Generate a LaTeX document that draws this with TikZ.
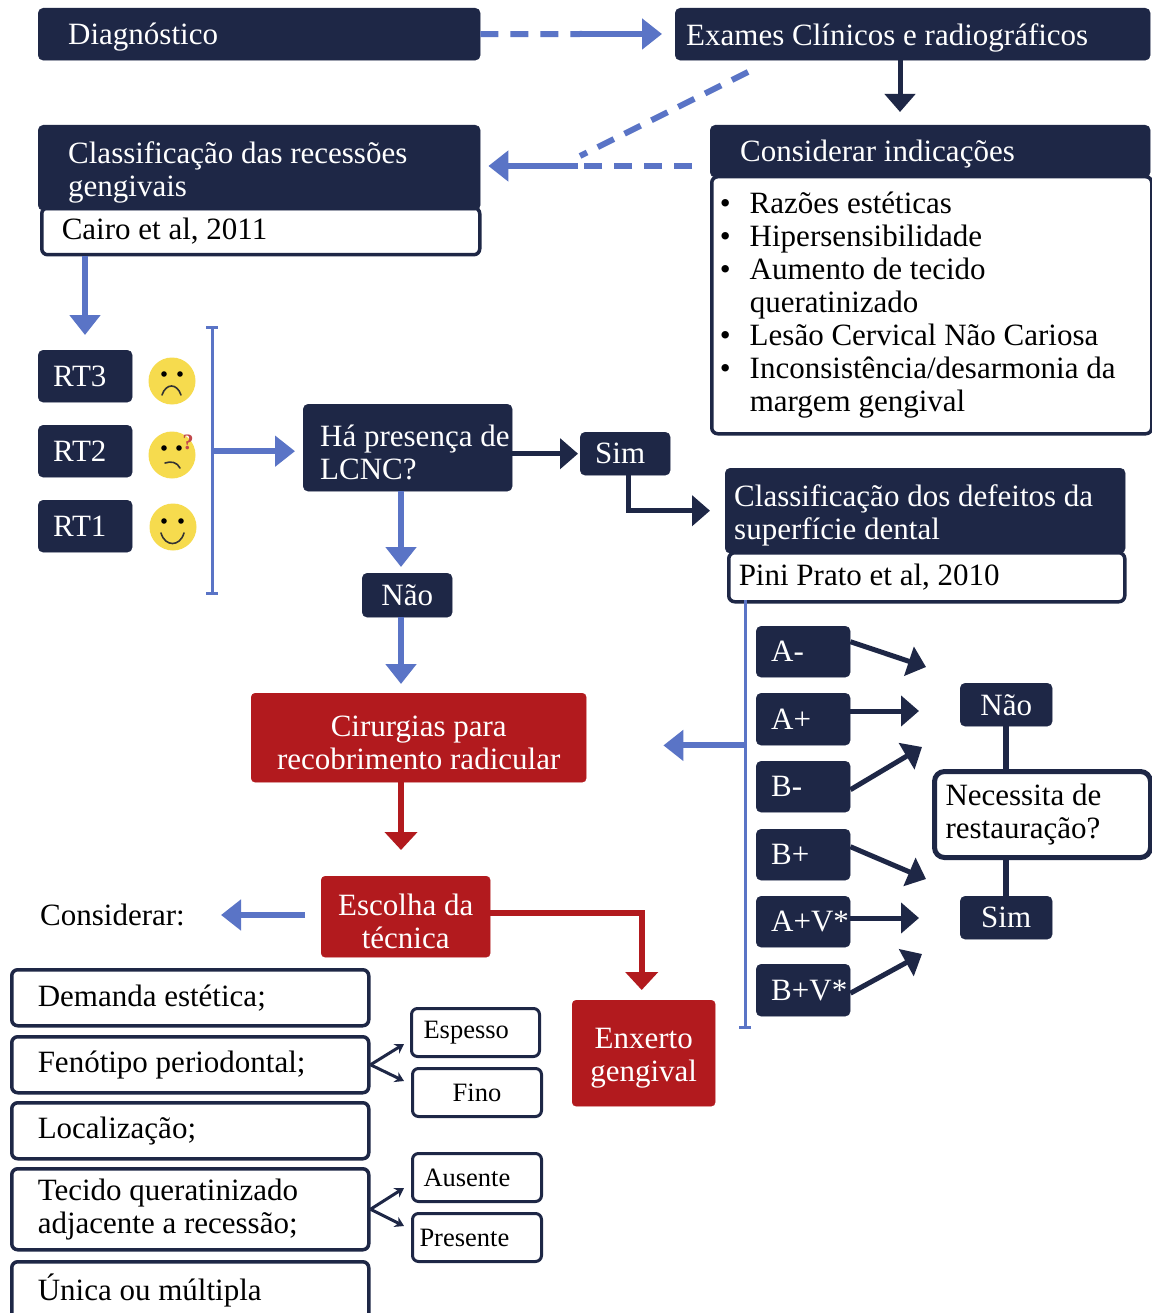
\documentclass[tikz,border=0pt]{standalone}
\usepackage{fontspec}
\setmainfont{Liberation Serif}
\usetikzlibrary{arrows.meta}
\definecolor{navy}{RGB}{30,39,70}
\definecolor{blu}{RGB}{90,116,198}
\definecolor{rd}{RGB}{178,26,30}
\definecolor{yel}{RGB}{246,219,78}
\newcommand\fz{\fontsize{31}{33}\selectfont}
\newcommand\fsm{\fontsize{26.5}{30}\selectfont}
\newcommand\lowr{\rule{0pt}{30.5pt}}
\newcommand\mybx[8]{%
 \pgfmathsetmacro\bxw{#5-#3}%
 \pgfmathsetmacro\bxh{#6-#4}%
 \pgfmathsetmacro\bxt{#5-#3-2*#7}%
 \node[#1,minimum width=\bxw pt,minimum height=\bxh pt,text width=\bxt pt,inner xsep=#7pt,inner ysep=0pt,anchor=north west] (#2) at (#3,#4) {#8};}
\begin{document}
\begin{tikzpicture}[x=1pt,y=-1pt,
 dk/.style={fill=navy,draw=navy,rounded corners=5pt,text=white,font=\fz,align=flush left},
 one/.style={text depth=0pt},
 dkc/.style={dk,align=flush center},
 wt/.style={fill=white,draw=navy,line width=3.5pt,rounded corners=6pt,text=black,font=\fz,align=flush left},
 rdb/.style={fill=rd,draw=rd,rounded corners=4pt,text=white,font=\fz,align=flush center},
 barrow/.style={draw=blu,line width=6pt,-{Triangle[length=20pt,width=30pt]}},
 bdash/.style={draw=blu,line width=6pt,dash pattern=on 18pt off 12pt},
 darrow/.style={draw=navy,line width=5pt,-{Triangle[length=18pt,width=30pt]}},
 rarrow/.style={draw=rd,line width=6pt,-{Triangle[length=18pt,width=32pt]}},
 bline/.style={draw=blu,line width=3pt},
 sarrow/.style={draw=navy,line width=3pt,-{Stealth[length=9pt,width=11pt]}},
 dline/.style={draw=navy,line width=6pt},
 face/.style={fill=yel},
 mouth/.style={draw=black!80,line width=1.6pt,line cap=round}]
\fill[white] (0,0) rectangle (1151,1313);
\useasboundingbox (0,0) rectangle (1151,1313);

% top row
\mybx{dk,one}{diag}{38}{8}{480}{60}{30}{Diagnóstico}
\mybx{dk,one}{exam}{675}{8}{1150}{60}{11}{Exames Clínicos e radiográficos}

% classification of recessions
\mybx{wt}{cairo}{40}{206}{478}{253}{20}{Cairo et al, 2011}
\mybx{dk}{cls}{38}{125}{480}{210}{30}{\lowr Classificação das recessões\\gengivais}

% indications
\mybx{wt}{ilist}{710}{175}{1150}{432}{8}{%
\makebox[30pt][l]{•}Razões estéticas\\
\makebox[30pt][l]{•}Hipersensibilidade\\
\makebox[30pt][l]{•}Aumento de tecido\\
\hspace*{30pt}queratinizado\\
\makebox[30pt][l]{•}Lesão Cervical Não Cariosa\\
\makebox[30pt][l]{•}Inconsistência/desarmonia da\\
\hspace*{30pt}margem gengival}
\mybx{dk,one}{cind}{710}{125}{1150}{177}{30}{Considerar indicações}

% RT boxes
\mybx{dk,one}{rt3}{38}{350}{132}{402}{15}{RT3}
\mybx{dk,one}{rt2}{38}{425}{132}{477}{15}{RT2}
\mybx{dk,one}{rt1}{38}{500}{132}{552}{15}{RT1}

% faces
\fill[face] (172,381) circle (23.5);
\fill (164,374) circle (2.8); \fill (180,374) circle (2.8);
\draw[mouth] (162,395) .. controls (166,383) and (177,383) .. (181,395);
\fill[face] (172,455) circle (23.5);
\fill (164,448) circle (2.8); \fill (179,448) circle (2.8);
\draw[mouth] (165,463) .. controls (171,461) and (177,462) .. (180,468);
\node[text=rd!80,font=\fontsize{22}{22}\selectfont\bfseries,inner sep=0] (qm) at (188,442) {?};
\fill[face] (173,527) circle (23.5);
\fill (164,521) circle (2.8); \fill (181,521) circle (2.8);
\draw[mouth] (161,533) .. controls (165,547) and (180,547) .. (184,533);

% LCNC question
\mybx{dk}{lcnc}{303}{404}{512}{491}{17}{\lowr\mbox{Há presença de}\\LCNC?}
\mybx{dk,one}{sim1}{580}{432}{670}{475}{15}{Sim}
\mybx{dkc,one}{nao1}{362}{573}{452}{617}{5}{Não}

% defects classification
\mybx{wt}{pini}{727}{551}{1123}{600}{10}{Pini Prato et al, 2010}
\mybx{dk}{def}{725}{468}{1125}{553}{9}{\lowr Classificação dos defeitos da\\superfície dental}

% surgery
\mybx{rdb}{cir}{251}{693}{586}{782}{10}{\lowr Cirurgias para\\recobrimento radicular}
\mybx{rdb}{esc}{321}{876}{490}{957}{10}{\lowr Escolha da\\técnica}
\mybx{rdb}{enx}{572}{1000}{715}{1106}{10}{\lowr Enxerto\\gengival}

% letter boxes
\mybx{dk,one}{am}{756}{626}{850}{677}{15}{A-}
\mybx{dk,one}{ap}{756}{693}{850}{745}{15}{A+}
\mybx{dk,one}{bm}{756}{761}{850}{812}{15}{B-}
\mybx{dk,one}{bp}{756}{829}{850}{880}{15}{B+}
\mybx{dk,one}{apv}{756}{896}{850}{947}{15}{A+V*}
\mybx{dk,one}{bpv}{756}{964}{850}{1016}{15}{B+V*}

\mybx{dkc,one}{nao2}{960}{683}{1052}{726}{5}{Não}
\mybx{dkc,one}{sim2}{960}{896}{1052}{939}{5}{Sim}
\mybx{wt,line width=5pt,rounded corners=10pt}{nec}{932}{769}{1148}{855}{11}{Necessita de\\restauração?}

% consider
\node[font=\fz,anchor=west,inner sep=0] (cons) at (40,915) {Considerar:};
\mybx{wt}{dem}{10}{968}{367}{1024}{26}{Demanda estética;}
\mybx{wt}{fen}{10}{1035}{367}{1091}{26}{Fenótipo periodontal;}
\mybx{wt}{loc}{10}{1101}{367}{1157}{26}{Localização;}
\mybx{wt}{tec}{10}{1167}{367}{1248}{26}{Tecido queratinizado\\adjacente a recessão;}
\mybx{wt}{uni}{10}{1260}{367}{1318}{26}{Única ou múltipla}

\mybx{wt,line width=3pt,font=\fsm}{esp}{410}{1007}{538}{1055}{12}{Espesso}
\mybx{wt,line width=3pt,font=\fsm,align=flush center}{fin}{411}{1067}{540}{1115}{8}{Fino}
\mybx{wt,line width=3pt,font=\fsm}{aus}{411}{1152}{540}{1200}{11}{Ausente}
\mybx{wt,line width=3pt,font=\fsm}{pre}{411}{1212}{540}{1260}{7}{Presente}

% coordinates
\coordinate (c1) at (582,34);
\coordinate (x900) at (900,0);
\coordinate (j0) at (748,72);
\coordinate (j2) at (580,156);
\coordinate (j1) at (578,166);
\coordinate (x85) at (85,0);
\coordinate (bt) at (212,327);
\coordinate (bb) at (212,593);
\coordinate (rt) at (745,600);
\coordinate (rb) at (745,1027);
\coordinate (x401) at (401,0);
\coordinate (t1) at (926,667);
\coordinate (t2) at (919,711);
\coordinate (t3) at (922,747);
\coordinate (t4) at (926,879);
\coordinate (t5) at (919,918);
\coordinate (t6) at (922,954);
\coordinate (a1) at (404,1044);
\coordinate (a2) at (404,1081);
\coordinate (a3) at (404,1188);
\coordinate (a4) at (404,1226);

% connectors top
\draw[bdash] (diag.east) -- (c1);
\draw[barrow,shorten >=13pt] (c1) -- (exam.west |- c1);
\draw[darrow,shorten >=13pt] (exam.south -| x900) -- (cind.north -| x900);
\draw[bdash] (j0) -- (j2);
\draw[bdash,shorten <=18pt] (cind.west |- j1) -- (j1);
\draw[barrow,shorten >=8pt] (j1) -- (cls.east |- j1);

% left side
\draw[barrow,shorten >=15pt] (cairo.south -| x85) -- (rt3.north -| x85);
\draw[bline] (bt) -- (bb);
\draw[bline] ([xshift=-6pt]bt) -- ([xshift=6pt]bt);
\draw[bline] ([xshift=-6pt]bb) -- ([xshift=6pt]bb);
\draw[barrow,shorten >=8pt] (bt |- rt2.east) -- (lcnc.west |- rt2.east);
\draw[darrow,shorten >=2pt] (lcnc.east |- sim1.west) -- (sim1.west);
\draw[darrow,shorten >=15pt] ([xshift=3pt]sim1.south) |- (def.west);
\draw[barrow,shorten >=6pt] (lcnc.south -| x401) -- (nao1.north -| x401);
\draw[barrow,shorten >=9pt] (nao1.south -| x401) -- (cir.north -| x401);
\draw[rarrow,shorten >=26pt] (cir.south -| x401) -- (esc.north -| x401);
\draw[rarrow,shorten >=10pt] ([yshift=4pt]esc.east) -| ([xshift=-2pt]enx.north);
\draw[barrow,shorten <=16pt,shorten >=36pt] (esc.west |- cons.east) -- (cons.east);

% right side
\draw[bline] (rt) -- (rb);
\draw[bline] ([xshift=-6pt]rb) -- ([xshift=6pt]rb);
\draw[barrow,shorten >=77pt] (rt |- ap.south) -- (cir.east |- ap.south);
\draw[darrow] ([yshift=10pt]am.east) -- (t1);
\draw[darrow] (ap.east |- t2) -- (t2);
\draw[darrow] ([yshift=-3pt]bm.east) -- (t3);
\draw[darrow] ([yshift=8pt]bp.east) -- (t4);
\draw[darrow] (apv.east |- t5) -- (t5);
\draw[darrow] ([yshift=-3pt]bpv.east) -- (t6);
\draw[dline] (nao2.south) -- (nec.north -| nao2.south);
\draw[dline] (nec.south -| sim2.north) -- (sim2.north);

% small arrows
\draw[sarrow] (fen.east) -- (a1);
\draw[sarrow] (fen.east) -- (a2);
\draw[sarrow] (tec.east) -- (a3);
\draw[sarrow] (tec.east) -- (a4);
\end{tikzpicture}
\end{document}
